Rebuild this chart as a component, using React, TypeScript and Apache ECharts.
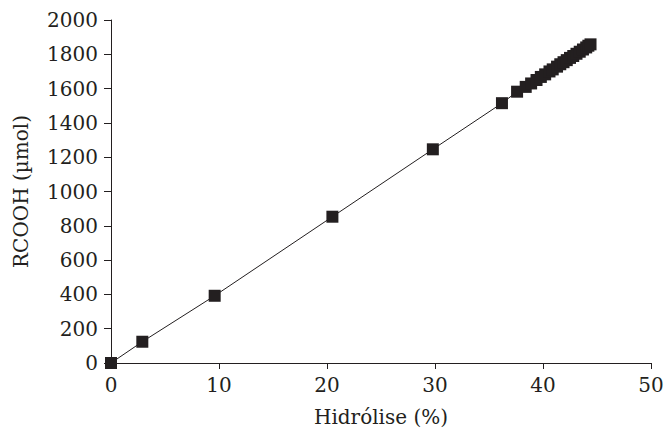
import React, { useEffect, useRef } from "react";
import * as echarts from "echarts";

const hydrolysis = [0, 2.9, 9.6, 20.5, 29.8, 36.2, 37.6, 38.4, 38.9, 39.4, 39.8, 40.2, 40.6, 40.9, 41.3, 41.6, 41.9, 42.2, 42.5, 42.8, 43.1, 43.4, 43.7, 44.0, 44.2, 44.4];
const rcooh = [0, 124, 392, 853, 1246, 1515, 1582, 1610, 1630, 1650, 1668, 1683, 1700, 1712, 1728, 1742, 1754, 1766, 1779, 1790, 1803, 1815, 1828, 1840, 1850, 1858];

const xTitle = "Hidrólise (%)";
const yTitle = "RCOOH (µmol)";

export default function App() {
  const ref = useRef<HTMLDivElement>(null);
  useEffect(() => {
    if (!ref.current) return;
    const chart = echarts.init(ref.current, null, { renderer: "svg" });
    const ink = "#231f20";
    const font = "DejaVu Serif";
    chart.setOption({
      animation: false,
      backgroundColor: "#ffffff",
      grid: { left: 111, right: 13, top: 20, bottom: 66, containLabel: false, outerBoundsMode: "none" },
      xAxis: {
        type: "value",
        min: 0,
        max: 50,
        interval: 10,
        name: xTitle,
        nameLocation: "middle",
        nameGap: 44,
        nameTextStyle: { color: ink, fontFamily: font, fontSize: 20 },
        axisLine: { show: true, onZero: false, lineStyle: { color: ink, width: 1 } },
        axisTick: { show: true, inside: false, length: 6, lineStyle: { color: ink } },
        axisLabel: { color: ink, fontFamily: font, fontSize: 20, margin: 12, formatter: (v: number) => String(v) },
        splitLine: { show: false },
      },
      yAxis: {
        type: "value",
        min: 0,
        max: 2000,
        interval: 200,
        name: yTitle,
        nameLocation: "middle",
        nameGap: 80,
        nameRotate: 90,
        nameTextStyle: { color: ink, fontFamily: font, fontSize: 20 },
        axisLine: { show: true, lineStyle: { color: ink, width: 1 } },
        axisTick: { show: true, inside: false, length: 7, lineStyle: { color: ink } },
        axisLabel: { color: ink, fontFamily: font, fontSize: 20, margin: 13, formatter: (v: number) => String(v) },
        splitLine: { show: false },
      },
      series: [
        {
          type: "line",
          data: hydrolysis.map((x, i) => [x, rcooh[i]]),
          symbol: "rect",
          symbolSize: 12,
          showAllSymbol: true,
          itemStyle: { color: ink },
          lineStyle: { color: ink, width: 1 },
          clip: false,
        },
      ],
    });
    return () => chart.dispose();
  }, []);
  return (
    <div
      ref={ref}
      style={{ position: "fixed", left: 0, top: 0, width: 664, height: 429 }}
    />
  );
}
